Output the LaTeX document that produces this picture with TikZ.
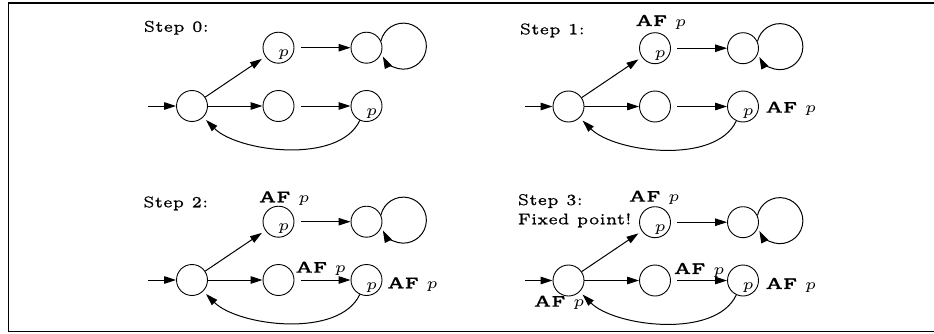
\documentclass[tikz,border=0pt]{standalone}
\usepackage{fontspec}
\newfontfamily\lmfive[BoldFont=lmroman5-bold.otf, FakeBold=0.8, BoldFeatures={FakeBold=0.6}]{lmroman5-regular.otf}
\usetikzlibrary{arrows.meta}
\tikzset{
  st/.style={circle, draw, line width=0.9pt, minimum size=31pt, inner sep=0pt},
  txt/.style={inner sep=0pt, scale=3.1, font=\fontsize{5}{6}\lmfive},
  arr/.style={line width=1pt, -{Triangle[length=12pt,width=7.5pt]}},
}
\newcommand{\automaton}[3]{%
\begin{scope}[shift={(#2,#3)}]
 \node[st] (#1A) at (0,0) {};
 \node[st] (#1B) at (86.5,58.3) {};
 \node[st] (#1C) at (174.5,58.3) {};
 \node[st] (#1D) at (86.5,0) {};
 \node[st] (#1E) at (174.5,0) {};
 \node[txt, anchor=base] (#1pB) at (91.5,49.3) {$p$};
 \node[txt, anchor=base] (#1pE) at (179.5,-9) {$p$};
 \coordinate (#1i) at (-43.7,0);
 \draw[arr] (#1i) -- (#1A);
 \draw[arr, shorten >=4pt] (#1A) -- (#1B);
 \draw[arr] (#1A) -- (#1D);
 \draw[arr, shorten <=6.5pt] (#1B) -- (#1C);
 \draw[arr, shorten <=6.5pt] (#1D) -- (#1E);
 \draw[arr, shorten >=4pt] (#1E.-115) to[out=-115,in=-45,looseness=0.8] (#1A.-45);
 \draw[arr] (#1C.25) arc[start angle=167,end angle=-153,radius=23];
\end{scope}}
\begin{document}
\begin{tikzpicture}[x=1pt,y=1pt]
\useasboundingbox (0,0) rectangle (934,333);
\draw[line width=1.6pt] (934,330) -- (8.5,330) -- (8.5,1.5) -- (934,1.5);

\automaton{s0}{192}{227}
\automaton{s1}{568.5}{226.5}
\automaton{s2}{192}{53}
\automaton{s3}{568.5}{52.5}

\node[txt, anchor=base west] (t0) at (143,301.3) {Step 0:};
\node[txt, anchor=base west] (t1) at (519,298.7) {Step 1:};
\node[txt, anchor=base west] (t2) at (142.5,125.7) {Step 2:};
\node[txt, anchor=base west] (t3) at (517,128) {Step 3:};
\node[txt, anchor=base west] (t3b) at (517,108.7) {Fixed point!};

\node[txt, anchor=base west] (l1B) at (635,307) {\textbf{AF} $p$};
\node[txt, anchor=base west] (l1E) at (765,220.3) {\textbf{AF} $p$};

\node[txt, anchor=base west] (l2B) at (258.3,130.7) {\textbf{AF} $p$};
\node[txt, anchor=base west] (l2D) at (295,60.3) {\textbf{AF} $p$};
\node[txt, anchor=base west] (l2E) at (386.7,44.7) {\textbf{AF} $p$};

\node[txt, anchor=base west] (l3B) at (628.3,131.3) {\textbf{AF} $p$};
\node[txt, anchor=base west] (l3D) at (673.3,59) {\textbf{AF} $p$};
\node[txt, anchor=base west] (l3E) at (765,44) {\textbf{AF} $p$};
\node[txt, anchor=base west] (l3A) at (533.3,26.3) {\textbf{AF} $p$};
\end{tikzpicture}
\end{document}
